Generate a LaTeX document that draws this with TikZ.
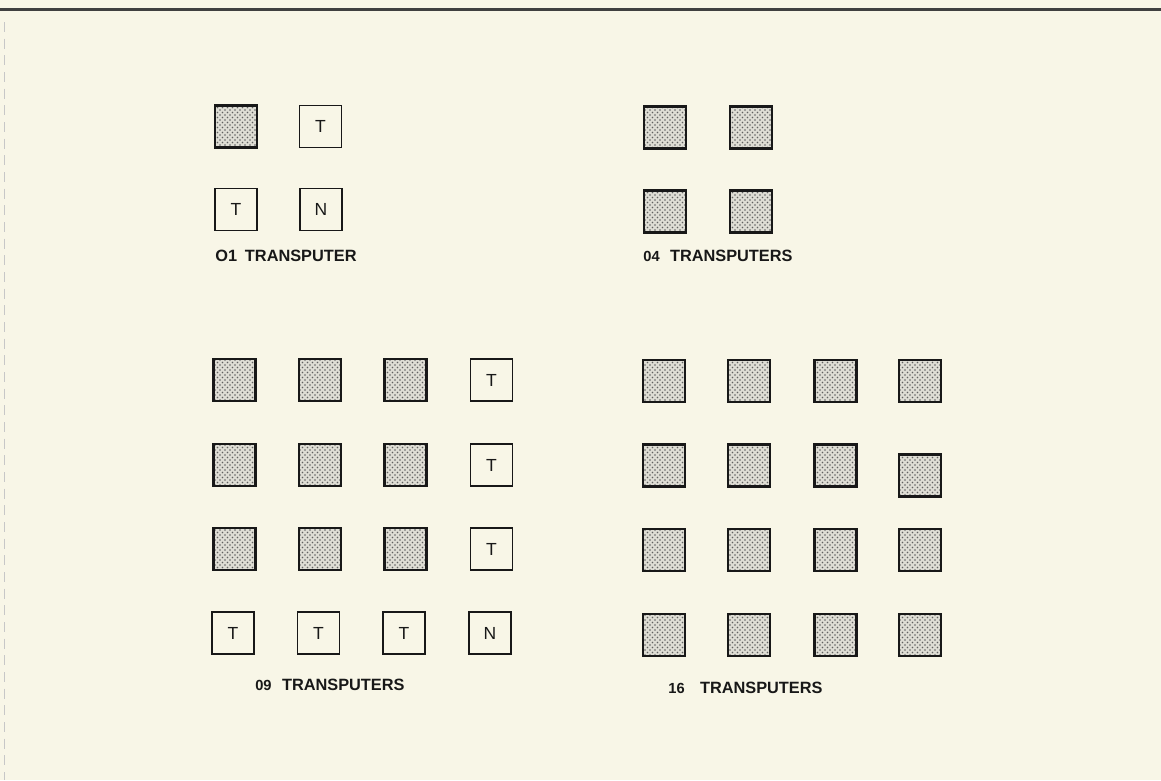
\documentclass[tikz,border=0pt]{standalone}
\usepackage{fontspec}
\setmainfont{Liberation Sans}
\usetikzlibrary{patterns}
\definecolor{paper}{RGB}{248,246,231}
\definecolor{dotbase}{RGB}{222,221,212}
\definecolor{ink}{RGB}{24,24,24}
\newcommand{\dgt}[1]{{\fontsize{8.8}{10}\selectfont #1}}
\begin{document}
\begin{tikzpicture}[x=0.6pt,y=-0.6pt,
  cell/.style={minimum width=25.2pt, minimum height=25.2pt, inner sep=0pt, outer sep=0pt},
  pe/.style={cell, draw=ink, line width=1.4pt, preaction={fill=dotbase}, pattern=crosshatch dots, pattern color=black!62},
  tb/.style={cell, draw=ink, line width=1.1pt, fill=paper, text=ink, font=\fontsize{10.5}{12}\selectfont},
  lab/.style={anchor=west, inner sep=0pt, text=ink, font=\bfseries\fontsize{9.8}{12}\selectfont},
  toprule/.style={line width=1.3pt, draw=black!75},
  leftrule/.style={line width=0.6pt, draw=black!22, dash pattern=on 6pt off 4pt}]
% page
\fill[paper] (0,0) rectangle (1161,780);
\useasboundingbox (0,0) rectangle (1161,780);
\coordinate (tl) at (0,9.5);
\coordinate (tr) at (1161,9.5);
\coordinate (lt) at (4,22);
\coordinate (lb) at (4,780);
\draw[toprule] (tl) -- (tr);
\draw[leftrule] (lt) -- (lb);

% ---- 01 transputer
\node[pe] (a11) at (236,126.5) {};
\node[tb] (a12) at (320.5,126.5) {T};
\node[tb] (a21) at (236,209.5) {T};
\node[tb] (a22) at (321,209.5) {N};
\node[lab] (la) at (215,256) {O1\hspace{2pt} TRANSPUTER};

% ---- 04 transputers
\node[pe] (b11) at (665,127.5) {};
\node[pe] (b12) at (751,127.5) {};
\node[pe] (b21) at (665,211.5) {};
\node[pe] (b22) at (751,211.5) {};
\node[lab] (lb4) at (643,256) {\dgt{04}\hspace{3.5pt} TRANSPUTERS};

% ---- 09 transputers
\node[pe] (c11) at (234.5,380) {};
\node[pe] (c12) at (320,380) {};
\node[pe] (c13) at (405.5,380) {};
\node[tb] (c14) at (491.5,380) {T};
\node[pe] (c21) at (234.5,465) {};
\node[pe] (c22) at (320,465) {};
\node[pe] (c23) at (405.5,465) {};
\node[tb] (c24) at (491.5,465) {T};
\node[pe] (c31) at (234.5,549) {};
\node[pe] (c32) at (320,549) {};
\node[pe] (c33) at (405.5,549) {};
\node[tb] (c34) at (491.5,549) {T};
\node[tb] (c41) at (233,633) {T};
\node[tb] (c42) at (318.5,633) {T};
\node[tb] (c43) at (404,633) {T};
\node[tb] (c44) at (490,633) {N};
\node[lab] (lc) at (255,685) {\dgt{09}\hspace{3.5pt} TRANSPUTERS};

% ---- 16 transputers
\node[pe] (d11) at (664,381) {};
\node[pe] (d12) at (749,381) {};
\node[pe] (d13) at (835.5,381) {};
\node[pe] (d14) at (920,381) {};
\node[pe] (d21) at (664,465.5) {};
\node[pe] (d22) at (749,465.5) {};
\node[pe] (d23) at (835.5,465.5) {};
\node[pe] (d24) at (920,475.5) {};
\node[pe] (d31) at (664,550) {};
\node[pe] (d32) at (749,550) {};
\node[pe] (d33) at (835.5,550) {};
\node[pe] (d34) at (920,550) {};
\node[pe] (d41) at (664,635) {};
\node[pe] (d42) at (749,635) {};
\node[pe] (d43) at (835.5,635) {};
\node[pe] (d44) at (920,635) {};
\node[lab] (ld) at (668,688) {\dgt{16}\hspace{6.5pt} TRANSPUTERS};
\end{tikzpicture}
\end{document}
